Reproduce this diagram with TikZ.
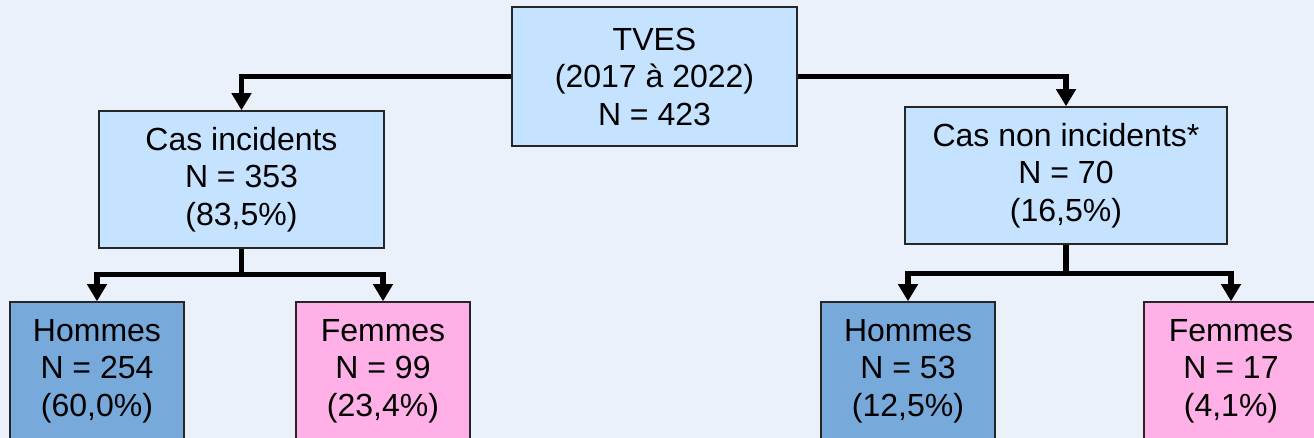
\documentclass[tikz,border=0pt]{standalone}
\usepackage{fontspec}
\setmainfont{Liberation Sans}
\usetikzlibrary{arrows.meta}
\definecolor{tvBack}{RGB}{234, 241, 250}
\definecolor{tvLight}{RGB}{197, 226, 255}
\definecolor{tvMen}{RGB}{119, 170, 219}
\definecolor{tvWomen}{RGB}{255, 176, 230}
\tikzset{
    base/.style={
        font=\fontsize{32}{37.5}\selectfont,
        align=center
    },
    box/.style={
        base,
        rectangle,
        draw=black!85,
        line width=1.5pt,
        inner sep=0pt
    },
    group/.style={
        box,
        fill=tvLight,
        minimum height=137pt
    },
    men/.style={
        box,
        fill=tvMen,
        minimum width=174pt,
        minimum height=138pt
    },
    women/.style={
        box,
        fill=tvWomen,
        minimum width=174pt,
        minimum height=138pt
    },
    link/.style={
        line width=5.5pt,
        color=black
    },
    flow/.style={
        link,
        -{Triangle[width=19pt, length=17pt]}
    }
}
\begin{document}
\begin{tikzpicture}[x=1pt, y=-1pt]
  \useasboundingbox (0,0) rectangle (1314,438);
  \clip (0,0) rectangle (1314,438);
  \fill[tvBack] (0,0) rectangle (1314,438);

  % Population
  \node[group, minimum width=285pt, minimum height=139pt] (tves) at (654.5,76.5) {TVES\\ (2017 à 2022)\\N = 423};

  % Incident / non incident cases
  \node[group, minimum width=285pt] (inc) at (241.5,179.5) {Cas incidents\\N = 353\\(83,5\%)};
  \node[group, minimum width=322pt] (noninc) at (1066,175.5) {Cas non incidents*\\N = 70\\(16,5\%)};

  % By sex
  \node[men] (incmen) at (97,371) {Hommes\\N = 254\\(60,0\%)};
  \node[women] (incwomen) at (383,371) {Femmes\\N = 99\\(23,4\%)};
  \node[men] (nonincmen) at (908,371) {Hommes\\N = 53\\(12,5\%)};
  \node[women] (nonincwomen) at (1231,371) {Femmes\\N = 17\\(4,1\%)};

  % Connectors
  \draw[flow] (tves.west) -| (inc.north);
  \draw[flow] (tves.east) -| (noninc.north);

  \draw[link] (inc.south) -- ++(0,26) coordinate (incfork);
  \draw[flow] (incfork) -| (incmen.north);
  \draw[flow] (incfork) -| (incwomen.north);

  \draw[link] (noninc.south) -- ++(0,29) coordinate (nonincfork);
  \draw[flow] (nonincfork) -| (nonincmen.north);
  \draw[flow] (nonincfork) -| (nonincwomen.north);
\end{tikzpicture}
\end{document}
